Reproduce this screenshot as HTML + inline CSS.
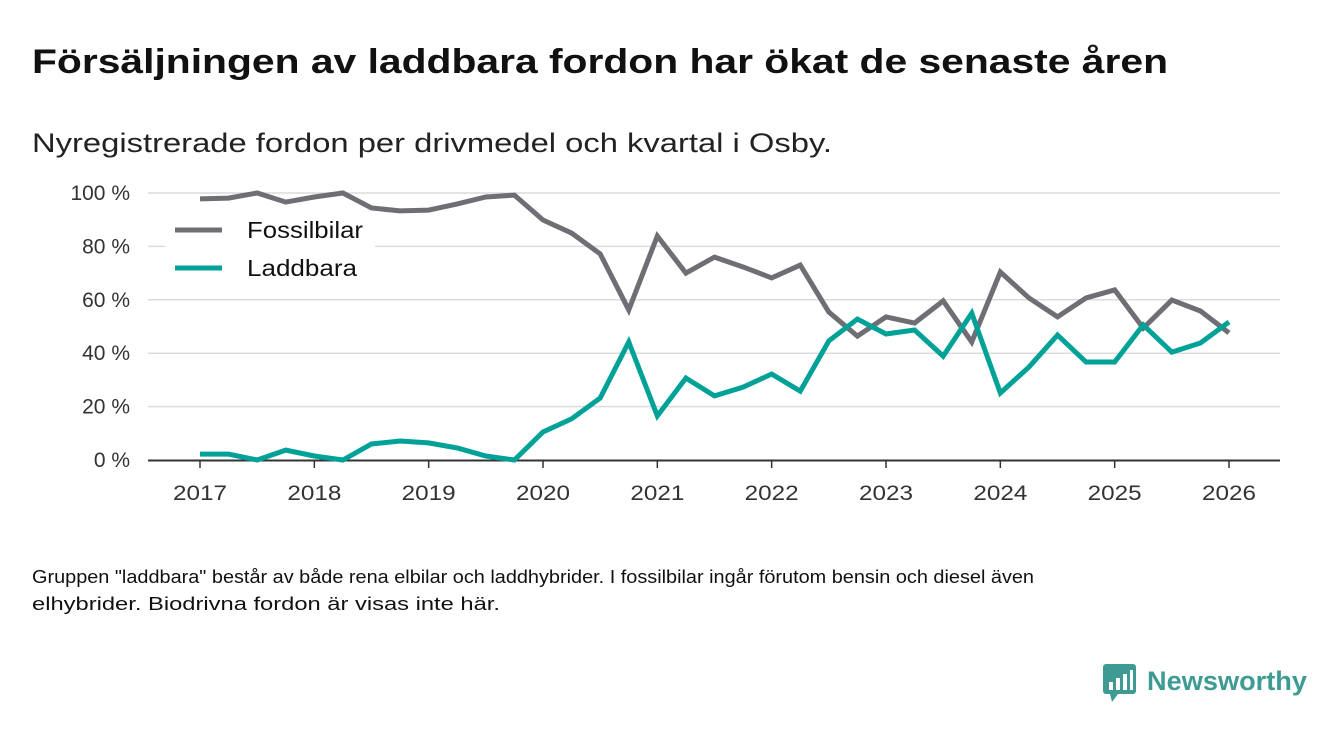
<!DOCTYPE html>
<html><head><meta charset="utf-8"><style>
body{margin:0;background:#fff;width:1340px;height:733px;overflow:hidden;font-family:"Liberation Sans",sans-serif;color:#111}
</style></head><body>
<svg width="1340" height="733" xmlns="http://www.w3.org/2000/svg" style="position:absolute;left:0;top:0" font-family="Liberation Sans, sans-serif">
<text x="32" y="73" font-size="34" font-weight="bold" fill="#111" textLength="1136" lengthAdjust="spacingAndGlyphs">Försäljningen av laddbara fordon har ökat de senaste åren</text>
<text x="32" y="152" font-size="27" fill="#222" textLength="800" lengthAdjust="spacingAndGlyphs">Nyregistrerade fordon per drivmedel och kvartal i Osby.</text>
<g id="grid"></g>
<g id="lines"></g>
<g>
<rect x="165" y="212" width="210" height="75" fill="#fff"/>
<line x1="175" y1="230" x2="222" y2="230" stroke="#6f6e74" stroke-width="5"/>
<text x="247" y="238" font-size="23" fill="#111" textLength="116" lengthAdjust="spacingAndGlyphs">Fossilbilar</text>
<line x1="175" y1="268" x2="222" y2="268" stroke="#00a297" stroke-width="5"/>
<text x="247" y="276" font-size="23" fill="#111" textLength="110" lengthAdjust="spacingAndGlyphs">Laddbara</text>
</g>
<text x="32" y="583" font-size="18" fill="#111" textLength="1002" lengthAdjust="spacingAndGlyphs">Gruppen "laddbara" består av både rena elbilar och laddhybrider. I fossilbilar ingår förutom bensin och diesel även</text>
<text x="32" y="610" font-size="18" fill="#111" textLength="468" lengthAdjust="spacingAndGlyphs">elhybrider. Biodrivna fordon är visas inte här.</text>
<g>
<rect x="1103" y="664" width="33" height="30" rx="3" fill="#3d9b94"/>
<polygon points="1110,694 1118,694 1112,702" fill="#3d9b94"/>
<rect x="1109" y="682" width="4" height="8" fill="#fff"/><rect x="1116" y="678" width="4" height="12" fill="#fff"/><rect x="1123" y="674" width="4" height="16" fill="#fff"/><rect x="1130" y="670" width="3" height="20" fill="#fff"/>
<text x="1147" y="690" font-size="27" font-weight="bold" fill="#3d9b94" textLength="160" lengthAdjust="spacingAndGlyphs">Newsworthy</text>
</g>
</svg>
<script>
const quarters=37;
const fossil=[97.8,98.1,100,96.6,98.5,100,94.4,93.3,93.6,95.9,98.5,99.2,89.9,85,77.2,56.2,83.9,70,76,72.3,68.2,73,55.4,46.4,53.6,51.3,59.6,44.2,70.4,60.7,53.6,60.7,63.7,49.4,59.9,55.8,47.6];
const laddbara=[2.2,2.2,0,3.7,1.5,0,6,7.1,6.4,4.5,1.5,0,10.5,15.4,23.2,44.2,16.5,30.7,24,27.3,32.2,25.8,44.6,52.8,47.2,48.7,38.9,55,25.1,34.8,46.8,36.7,36.7,50.6,40.4,43.8,51.7];
const yTicks=[0,20,40,60,80,100];
const years=[2017,2018,2019,2020,2021,2022,2023,2024,2025,2026];
const ns="http://www.w3.org/2000/svg";
const x=i=>200+i*(1029/36);
const y=v=>460-v*2.67;
const grid=document.getElementById('grid'),lines=document.getElementById('lines');
function mk(t,a,p){const e=document.createElementNS(ns,t);for(const k in a)e.setAttribute(k,a[k]);p.appendChild(e);return e;}
yTicks.forEach(v=>{
 if(v>0){const g=mk('line',{x1:148,x2:1280,y1:y(v),y2:y(v),stroke:'#dcdcdc','stroke-width':1.5},grid);
 
 }
 const t=mk('text',{x:130,y:y(v)+7,'font-size':21,'text-anchor':'end',fill:'#333'},grid);t.textContent=v+' %';
 
 
});
const ax=mk('line',{x1:148,x2:1280,y1:460.5,y2:460.5,stroke:'#333','stroke-width':2},grid);


years.forEach((yr,i)=>{
 const xx=x(i*4);
 mk('line',{x1:xx,x2:xx,y1:460,y2:468,stroke:'#333','stroke-width':1.5},grid);
 const t=mk('text',{x:xx,y:500,'font-size':21,'text-anchor':'middle',fill:'#333',textLength:54,lengthAdjust:'spacingAndGlyphs'},grid);t.textContent=yr;
 
 
});
function line(d,c,n){const p=mk('polyline',{points:d.map((v,i)=>x(i)+','+y(v)).join(' '),fill:'none',stroke:c,'stroke-width':5,'stroke-linejoin':'miter'},lines);
 
 }
line(fossil,'#6f6e74','fossilbilar-line');
line(laddbara,'#00a297','laddbara-line');
</script>
</body></html>
